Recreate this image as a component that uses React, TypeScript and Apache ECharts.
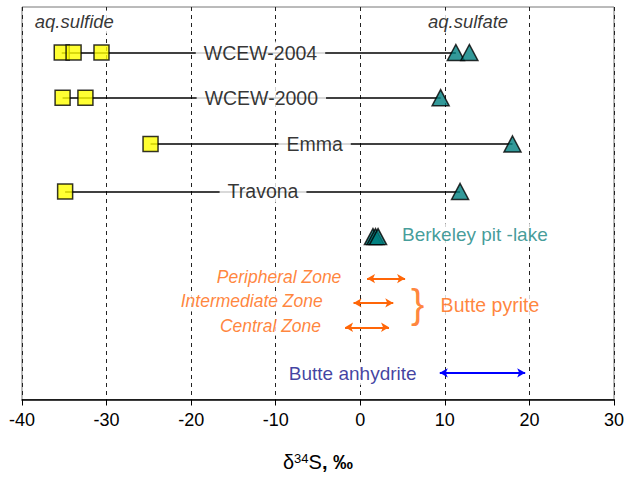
import React, { useEffect, useRef } from "react";
import * as echarts from "echarts";

// ---- data ----
const rowNames = ["WCEW-2004", "WCEW-2000", "Emma", "Travona"];
const rowY = [88.4, 76.9, 65.1, 53.0];
const sulfideValues = [[-35.3, -33.9, -30.6], [-35.2, -32.5], [-24.8], [-34.9]];
const sulfateValues = [[11.3, 12.9], [9.5], [18.0], [11.8]];
const rowLabelX = [-11.8, -11.7, -5.4, -11.5];

const berkeleyValues = [1.5, 1.8, 2.1];
const berkeleyY = 41.5;

const pyriteZones = ["Peripheral Zone", "Intermediate Zone", "Central Zone"];
const pyriteRanges = [[0.8, 5.3], [-0.8, 3.9], [-1.8, 3.4]];
const pyriteY = [30.8, 24.6, 18.4];
const pyriteLabelX = [-2.0, -4.2, -4.4];

const anhydriteRange = [9.4, 19.5];
const anhydriteY = 6.8;

const xMin = -40;
const xMax = 30;
const xInterval = 10;

const FONT = "'Liberation Sans', Arial, Helvetica, sans-serif";
const ORANGE = "#ff6608";
const TEAL = "#13847f";

export default function App() {
  const ref = useRef<HTMLDivElement>(null);
  useEffect(() => {
    if (!ref.current) return;
    const chart = echarts.init(ref.current, null, { renderer: "svg" });

    const connectorLines: any[] = [];
    rowNames.forEach((_, i) => {
      const lo = Math.min(...sulfideValues[i]);
      const hi = Math.min(...sulfateValues[i]);
      connectorLines.push([{ coord: [lo, rowY[i]] }, { coord: [hi, rowY[i]] }]);
    });

    const textLabel = (x: number, y: number, text: string, opts: any) => ({
      value: [x, y],
      label: {
        show: true,
        position: "inside",
        formatter: text,
        fontFamily: FONT,
        ...opts,
      },
    });

    const labelData: any[] = [];
    rowNames.forEach((n, i) => {
      labelData.push(
        textLabel(rowLabelX[i], rowY[i], n, {
          fontSize: 19.5,
          color: "#000",
          backgroundColor: "#fff",
          padding: [2, 8, 0, 8],
        })
      );
    });
    labelData.push(
      textLabel(-38.5, 96.2, "aq.sulfide", {
        fontSize: 18.5,
        fontStyle: "italic",
        color: "#000",
        align: "left",
        backgroundColor: "#fff",
        padding: [2, 2, 2, 0],
      })
    );
    labelData.push(
      textLabel(8.0, 96.2, "aq.sulfate", {
        fontSize: 18.5,
        fontStyle: "italic",
        color: "#000",
        align: "left",
        backgroundColor: "#fff",
        padding: [2, 2, 2, 0],
      })
    );
    labelData.push(
      textLabel(4.7, 42.0, "Berkeley pit -lake", {
        fontSize: 19,
        color: TEAL,
        align: "left",
        backgroundColor: "#fff",
        padding: [2, 2, 2, 2],
      })
    );
    pyriteZones.forEach((z, i) => {
      labelData.push(
        textLabel(pyriteLabelX[i], pyriteY[i] + 0.4, z, {
          fontSize: 17.5,
          fontStyle: "italic",
          color: ORANGE,
          align: "right",
          backgroundColor: "#fff",
          padding: [1, 2, 1, 2],
        })
      );
    });
    labelData.push(
      textLabel(6.8, 24.4, "}", {
        fontSize: 40,
        color: ORANGE,
      })
    );
    labelData.push(
      textLabel(9.5, 24.1, "Butte pyrite", {
        fontSize: 19.5,
        color: ORANGE,
        align: "left",
        backgroundColor: "#fff",
        padding: [2, 2, 2, 0],
      })
    );
    labelData.push(
      textLabel(6.9, 6.6, "Butte anhydrite", {
        fontSize: 19,
        color: "#10108a",
        align: "right",
        backgroundColor: "#fff",
        padding: [2, 2, 2, 2],
      })
    );

    const squares: number[][] = [];
    const triangles: number[][] = [];
    rowNames.forEach((_, i) => {
      sulfideValues[i].forEach((v) => squares.push([v, rowY[i]]));
      sulfateValues[i].forEach((v) => triangles.push([v, rowY[i]]));
    });
    berkeleyValues.forEach((v) => triangles.push([v, berkeleyY]));

    const pyriteArrows = pyriteRanges.map((r, i) => [
      { coord: [r[0], pyriteY[i]] },
      { coord: [r[1], pyriteY[i]] },
    ]);

    chart.setOption({
      animation: false,
      grid: {
        left: 22,
        right: 10,
        top: 7,
        bottom: 73,
        show: true,
        borderColor: "#777",
        borderWidth: 1,
        backgroundColor: "#fff",
      },
      xAxis: {
        type: "value",
        min: xMin,
        max: xMax,
        interval: xInterval,
        name: "{d|δ}{sup|34}{s|S}{b|, ‰}",
        nameLocation: "middle",
        nameGap: 52,
        nameTextStyle: {
          rich: {
            d: { fontSize: 20, fontFamily: FONT, color: "#000" },
            sup: { fontSize: 13, fontFamily: FONT, color: "#000", verticalAlign: "top", padding: [0, 0, 8, 0] },
            s: { fontSize: 20, fontFamily: FONT, color: "#000" },
            b: { fontSize: 20, fontFamily: FONT, color: "#000", fontWeight: "bold" },
          },
        },
        axisLine: { show: true, lineStyle: { color: "#000", width: 1.5 } },
        axisTick: { show: true, length: 6, lineStyle: { color: "#000", width: 1 } },
        axisLabel: { fontSize: 18, color: "#000", fontFamily: FONT, margin: 11 },
        splitLine: {
          show: true,
          lineStyle: { color: "#222", type: [4, 4], width: 1 },
        },
      },
      yAxis: {
        type: "value",
        min: 0,
        max: 100,
        show: false,
        splitLine: { show: false },
      },
      series: [
        {
          type: "scatter",
          data: [],
          z: 2,
          markLine: {
            z: 2,
            silent: true,
            symbol: ["none", "none"],
            label: { show: false },
            lineStyle: { color: "#000", width: 1.5, type: "solid" },
            data: connectorLines,
          },
        },
        {
          type: "scatter",
          data: [],
          z: 2,
          markLine: {
            z: 2,
            silent: true,
            symbol: ["arrow", "arrow"],
            symbolSize: [7, 8],
            label: { show: false },
            lineStyle: { color: ORANGE, width: 2, type: "solid" },
            data: pyriteArrows,
          },
        },
        {
          type: "scatter",
          data: [],
          z: 2,
          markLine: {
            z: 2,
            silent: true,
            symbol: ["arrow", "arrow"],
            symbolSize: [7, 8],
            label: { show: false },
            lineStyle: { color: "#0000ff", width: 2, type: "solid" },
            data: [[{ coord: [anhydriteRange[0], anhydriteY] }, { coord: [anhydriteRange[1], anhydriteY] }]],
          },
        },
        {
          type: "scatter",
          z: 3,
          symbolSize: 1,
          itemStyle: { color: "rgba(0,0,0,0)" },
          data: labelData,
        },
        {
          type: "scatter",
          z: 5,
          symbol: "rect",
          symbolSize: 15,
          itemStyle: { color: "#ffff00", borderColor: "#000", borderWidth: 1.5 },
          data: squares,
        },
        {
          type: "scatter",
          z: 5,
          symbol: "triangle",
          symbolSize: [17, 16],
          itemStyle: { color: "#008080", borderColor: "#000", borderWidth: 1.5 },
          data: triangles,
        },
      ],
    });
    return () => chart.dispose();
  }, []);
  return (
    <div
      ref={ref}
      style={{ position: "fixed", left: 0, top: 0, width: 627, height: 477, background: "#fff" }}
    />
  );
}
